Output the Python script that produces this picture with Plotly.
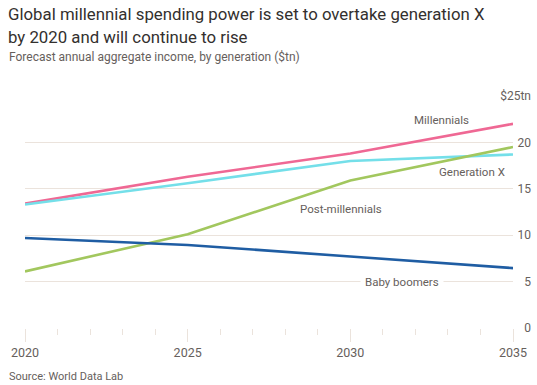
import plotly.graph_objects as go

years = [2020, 2025, 2030, 2035]
millennials = [13.4, 16.3, 18.8, 22.0]
generation_x = [13.3, 15.6, 18.0, 18.7]
post_millennials = [6.1, 10.1, 15.9, 19.5]
baby_boomers = [9.7, 8.95, 7.7, 6.45]

y_tickvals = [0, 5, 10, 15, 20, 25]
y_ticktext = ["0", "5", "10", "15", "20", "$25tn"]
x_tickvals = [2020, 2025, 2030, 2035]

FONT = "Roboto, Lato, sans-serif"
GRID = "#ebe3dc"
GREY = "#66605c"
DARK = "#33302e"

W, H = 537, 385
ML, MR, MT, MB = 25, 6, 96, 57
plot_w = W - ML - MR
plot_h = H - MT - MB
x_right_px = 513
xdom = (x_right_px - ML) / plot_w

def px_x(px):
    return (px - ML) / plot_w

def px_y(py):
    return (H - MB - py) / plot_h

fig = go.Figure()
series = [
    ("Millennials", millennials, "#ef6894", "y"),
    ("Generation X", generation_x, "#74dfe9", "y"),
    ("Post-millennials", post_millennials, "#a2c75e", "y"),
    ("Baby boomers", baby_boomers, "#1f5da3", "y2"),
]
for name, vals, color, ya in series:
    fig.add_trace(go.Scatter(x=years, y=vals, mode="lines", name=name,
                             line=dict(color=color, width=2.6),
                             yaxis=ya, showlegend=False, hoverinfo="skip"))

labels = [
    ("Millennials", 2032.79, 22.4, None),
    ("Generation X", 2033.74, 16.84, None),
    ("Post-millennials", 2029.7, 12.83, None),
    ("Baby boomers", 2031.59, 5.0, "white"),
]
annotations = []
for text, lx, ly, bg in labels:
    a = dict(text=text, x=lx, y=ly, xref="x", yref="y", showarrow=False,
             font=dict(family=FONT, size=11.5, color=GREY),
             xanchor="center", yanchor="middle")
    if bg:
        a["bgcolor"] = bg
        a["borderpad"] = 4
    annotations.append(a)

title_lines = ["Global millennial spending power is set to overtake generation X",
               "by 2020 and will continue to rise"]
for line, cy in zip(title_lines, [14, 37]):
    annotations.append(dict(text=line, x=px_x(6), y=px_y(cy), xref="paper", yref="paper",
                            showarrow=False, xanchor="left", yanchor="middle",
                            font=dict(family=FONT, size=16.8, color=DARK)))

annotations.append(dict(text="Forecast annual aggregate income, by generation ($tn)",
                        x=px_x(7), y=px_y(57), xref="paper", yref="paper",
                        showarrow=False, xanchor="left", yanchor="middle",
                        font=dict(family=FONT, size=12, color=GREY)))
annotations.append(dict(text="Source: World Data Lab",
                        x=px_x(7), y=px_y(376), xref="paper", yref="paper",
                        showarrow=False, xanchor="left", yanchor="middle",
                        font=dict(family=FONT, size=11, color=GREY)))

fig.update_layout(
    template="none",
    width=W, height=H, autosize=False,
    margin=dict(l=ML, r=MR, t=MT, b=MB, pad=0, autoexpand=False),
    paper_bgcolor="white", plot_bgcolor="white",
    xaxis=dict(domain=[0, xdom], range=[2020, 2035], tickvals=x_tickvals,
               automargin=False,
               showgrid=False, zeroline=False, showline=False,
               ticks="outside", ticklen=13, tickcolor=GRID, tickwidth=1,
               minor=dict(dtick=1, ticks="outside", ticklen=6, tickcolor=GRID, showgrid=False),
               tickfont=dict(family=FONT, size=12.5, color=GREY)),
    yaxis=dict(range=[0, 25], tickvals=y_tickvals, showticklabels=False,
               automargin=False,
               showgrid=True, gridcolor=GRID, gridwidth=1, zeroline=False,
               showline=False, ticks=""),
    yaxis2=dict(range=[0, 25], tickvals=y_tickvals, ticktext=y_ticktext,
                automargin=False,
                overlaying="y", anchor="free", position=1.0, side="left",
                showgrid=False, zeroline=False, showline=False, ticks="",
                tickfont=dict(family=FONT, size=12, color=GREY)),
    annotations=annotations,
)

fig.write_html("out.html", config={"displayModeBar": False, "responsive": False},
               post_script="document.body.style.margin='0';document.body.style.padding='0';")
